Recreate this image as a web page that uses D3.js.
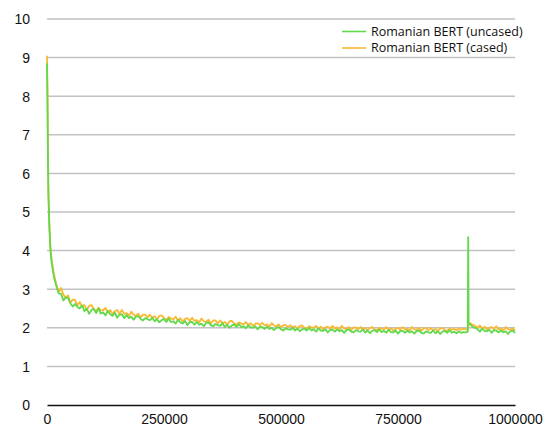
<!DOCTYPE html>
<html>
<head>
<meta charset="utf-8">
<script src="https://d3js.org/d3.v7.min.js"></script>
<style>
  body { margin: 0; background: #fff; }
  .tick-label { font-family: "Liberation Sans", Arial, sans-serif; font-size: 14px; fill: #111; }
  .legend-label { font-family: "Open Sans", sans-serif; font-size: 12.5px; fill: #111; }
</style>
</head>
<body>
<div class="chart"></div>
<script>
// training steps: dense at the start and around the spike, else every 5000
var headSteps = [0, 1000, 2000, 3000, 5000, 7500, 10000, 15000];
var spikeSteps = [899000, 900000, 901000];
var steps = headSteps
  .concat(d3.range(20000, 895001, 5000))
  .concat(spikeSteps)
  .concat(d3.range(905000, 1000001, 5000));

var yTicks = [0, 1, 2, 3, 4, 5, 6, 7, 8, 9, 10];
var xTicks = [0, 250000, 500000, 750000, 1000000];

var seriesNames = ["Romanian BERT (uncased)", "Romanian BERT (cased)"];

var uncasedLoss = [
  8.85, 7.90, 6.40, 5.40, 4.60, 4.00, 3.68, 3.30,
  3.08, 2.89, 2.88, 2.71, 2.79, 2.77, 2.63, 2.55, 2.62, 2.54,
  2.50, 2.58, 2.43, 2.50, 2.36, 2.46, 2.49, 2.38, 2.50, 2.37,
  2.40, 2.32, 2.44, 2.35, 2.31, 2.39, 2.26, 2.34, 2.35, 2.25,
  2.33, 2.25, 2.29, 2.21, 2.29, 2.30, 2.23, 2.19, 2.25, 2.22,
  2.20, 2.26, 2.17, 2.22, 2.14, 2.20, 2.23, 2.15, 2.24, 2.15,
  2.17, 2.11, 2.21, 2.14, 2.11, 2.18, 2.07, 2.15, 2.15, 2.08,
  2.15, 2.08, 2.11, 2.04, 2.13, 2.14, 2.07, 2.04, 2.10, 2.07,
  2.05, 2.12, 2.02, 2.08, 2.00, 2.06, 2.09, 2.02, 2.10, 2.02,
  2.04, 1.99, 2.07, 2.01, 2.00, 2.04, 1.96, 2.03, 2.02, 1.97,
  2.03, 1.97, 2.00, 1.94, 2.00, 2.02, 1.96, 1.93, 1.99, 1.96,
  1.95, 2.00, 1.93, 1.98, 1.91, 1.96, 1.98, 1.93, 2.00, 1.93,
  1.96, 1.90, 1.99, 1.93, 1.92, 1.96, 1.88, 1.95, 1.95, 1.90,
  1.96, 1.91, 1.94, 1.87, 1.94, 1.96, 1.90, 1.88, 1.94, 1.91,
  1.90, 1.96, 1.88, 1.93, 1.86, 1.92, 1.94, 1.89, 1.96, 1.89,
  1.92, 1.87, 1.95, 1.89, 1.88, 1.93, 1.85, 1.92, 1.92, 1.87,
  1.93, 1.88, 1.91, 1.85, 1.92, 1.93, 1.87, 1.85, 1.91, 1.88,
  1.87, 1.93, 1.86, 1.91, 1.84, 1.90, 1.92, 1.87, 1.94, 1.87,
  1.90, 1.86, 1.91, 1.87, 1.89, 1.88,
  1.90, 4.35, 2.12,
  2.08, 2.02, 2.00,
  1.96, 1.90, 1.98, 1.92, 1.91, 1.95, 1.87, 1.94, 1.93, 1.88,
  1.93, 1.88, 1.91, 1.84, 1.91, 1.93, 1.87
];

var casedLoss = [
  9.05, 8.10, 6.60, 5.60, 4.70, 4.05, 3.75, 3.38,
  3.12, 2.93, 3.03, 2.86, 2.78, 2.84, 2.65, 2.73, 2.72, 2.58,
  2.67, 2.55, 2.59, 2.46, 2.57, 2.59, 2.48, 2.43, 2.52, 2.46,
  2.45, 2.52, 2.40, 2.46, 2.36, 2.43, 2.46, 2.36, 2.46, 2.36,
  2.38, 2.31, 2.42, 2.34, 2.31, 2.37, 2.27, 2.34, 2.34, 2.27,
  2.34, 2.26, 2.30, 2.22, 2.31, 2.32, 2.25, 2.21, 2.28, 2.24,
  2.22, 2.29, 2.19, 2.25, 2.16, 2.23, 2.25, 2.18, 2.26, 2.18,
  2.20, 2.14, 2.24, 2.17, 2.15, 2.21, 2.11, 2.19, 2.19, 2.12,
  2.19, 2.12, 2.15, 2.08, 2.17, 2.18, 2.11, 2.08, 2.14, 2.11,
  2.09, 2.15, 2.07, 2.12, 2.05, 2.10, 2.12, 2.07, 2.13, 2.06,
  2.09, 2.03, 2.12, 2.06, 2.04, 2.09, 2.01, 2.07, 2.07, 2.02,
  2.07, 2.01, 2.04, 1.98, 2.05, 2.06, 2.00, 1.98, 2.04, 2.01,
  2.00, 2.05, 1.98, 2.03, 1.96, 2.01, 2.03, 1.98, 2.05, 1.98,
  2.01, 1.96, 2.05, 1.98, 1.97, 2.02, 1.94, 2.01, 2.01, 1.96,
  2.02, 1.97, 1.99, 1.93, 2.00, 2.02, 1.96, 1.94, 2.00, 1.97,
  1.96, 2.02, 1.94, 1.99, 1.92, 1.98, 2.00, 1.95, 2.02, 1.95,
  1.98, 1.93, 2.02, 1.96, 1.95, 2.00, 1.92, 1.99, 1.99, 1.94,
  1.99, 1.94, 1.97, 1.91, 1.98, 2.00, 1.94, 1.92, 1.98, 1.95,
  1.97, 1.94, 1.99, 1.95, 1.98, 1.96,
  1.97, 2.02, 2.10,
  2.12, 2.07, 2.05,
  2.00, 2.06, 1.98, 2.03, 1.95, 2.00, 2.02, 1.97, 2.04, 1.96,
  1.98, 1.93, 2.02, 1.96, 1.95, 1.99, 1.92
];

var colors = ["#62d94a", "#f9b934"];

var margin = {top: 19, right: 33, bottom: 25, left: 47};
var width = 548 - margin.left - margin.right;
var height = 430 - margin.top - margin.bottom;

var svg = d3.select('div.chart').append('svg')
    .attr('width', 548)
    .attr('height', 430);

var g = svg.append('g')
    .attr('transform', 'translate(' + margin.left + ',' + margin.top + ')');

var xScale = d3.scaleLinear().domain([0, 1000000]).range([0, width]);
var yScale = d3.scaleLinear().domain([0, 10]).range([height, 0]);

// grid lines
g.selectAll('line.grid')
  .data(yTicks.filter(function(d) { return d > 0; }))
  .enter()
  .append('line')
  .attr('class', 'grid')
  .attr('x1', 0)
  .attr('x2', width)
  .attr('y1', function(d) { return yScale(d); })
  .attr('y2', function(d) { return yScale(d); })
  .attr('stroke', '#c2c2c2')
  .attr('stroke-width', 1.5);

var yAxis = d3.axisLeft(yScale).tickValues(yTicks).tickSize(0).tickPadding(17);
g.append('g')
  .attr('class', 'y axis')
  .call(yAxis)
  .call(function(a) { a.select('.domain').remove(); })
  .selectAll('text')
  .attr('class', 'tick-label')
  .attr('dy', '0.35em');

var xAxis = d3.axisBottom(xScale).tickValues(xTicks).tickSize(0).tickPadding(9)
    .tickFormat(d3.format('d'));
g.append('g')
  .attr('class', 'x axis')
  .attr('transform', 'translate(0,' + height + ')')
  .call(xAxis)
  .call(function(a) {
    a.select('.domain').attr('stroke', '#111').attr('stroke-width', 1.5);
  })
  .selectAll('text')
  .attr('class', 'tick-label');

var line = d3.line()
    .x(function(d, i) { return xScale(steps[i]); })
    .y(function(d) { return yScale(d); });

// cased underneath, uncased on top
[casedLoss, uncasedLoss].forEach(function(values, k) {
  g.append('path')
    .datum(values)
    .attr('fill', 'none')
    .attr('stroke', colors[1 - k])
    .attr('stroke-width', 1.8)
    .attr('stroke-linejoin', 'round')
    .attr('d', line);
});

var legend = g.selectAll('g.legend')
  .data(seriesNames)
  .enter()
  .append('g')
  .attr('class', 'legend')
  .attr('transform', function(d, i) { return 'translate(295,' + (12.5 + i * 16.5) + ')'; });

legend.append('line')
  .attr('x1', 0)
  .attr('x2', 24)
  .attr('stroke', function(d, i) { return colors[i]; })
  .attr('stroke-width', 1.6);

legend.append('text')
  .attr('class', 'legend-label')
  .attr('x', 29)
  .attr('dy', '0.35em')
  .text(function(d) { return d; });
</script>
</body>
</html>
